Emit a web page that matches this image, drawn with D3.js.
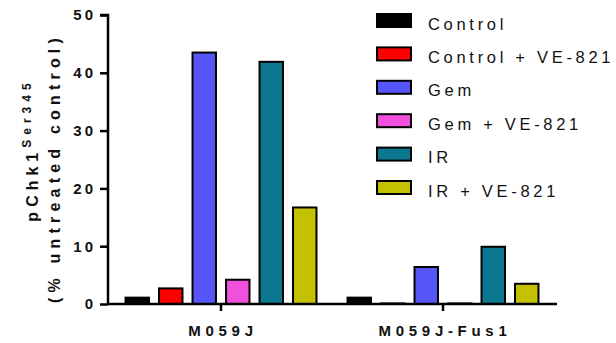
<!DOCTYPE html>
<html><head><meta charset="utf-8">
<script src="https://cdn.jsdelivr.net/npm/d3@7"></script>
<style>body{margin:0;background:#fff}svg{display:block}text{font-family:"Liberation Sans",Arial,sans-serif}</style>
</head><body><svg id="c" width="616" height="343"></svg>
<script>
const groups = ["M059J", "M059J-Fus1"];
const series = ["Control", "Control + VE-821", "Gem", "Gem + VE-821", "IR", "IR + VE-821"];
const colors = ["#000000", "#ff0000", "#5656f8", "#f050dc", "#0b7890", "#c4c200"];
const valuesM059J = [1.1, 2.7, 43.5, 4.2, 41.9, 16.7];
const valuesFus1 = [1.1, 0.1, 6.4, 0.1, 9.9, 3.5];
const yTicks = [0, 10, 20, 30, 40, 50];

const values = [valuesM059J, valuesFus1];
const svg = d3.select("#c");
const x0 = d3.scaleBand().domain(groups).range([110, 554]).paddingInner(0.0946).paddingOuter(0.0473);
const x1 = d3.scaleBand().domain(series).range([0, x0.bandwidth()]).paddingInner(0.3).paddingOuter(0.15);
const y = d3.scaleLinear().domain([0, 50]).range([304, 15]);

// bars
groups.forEach((g, gi) => {
  svg.append("g").selectAll("rect").data(series).join("rect")
    .attr("x", s => x0(g) + x1(s))
    .attr("y", (s, i) => y(values[gi][i]))
    .attr("width", x1.bandwidth())
    .attr("height", (s, i) => y(0) - y(values[gi][i]))
    .attr("fill", (s, i) => colors[i])
    .attr("stroke", "#000").attr("stroke-width", 2);
});

// y axis
const ya = svg.append("g").attr("transform", "translate(108,0)")
  .call(d3.axisLeft(y).tickValues(yTicks).tickSize(8).tickPadding(4));
ya.select(".domain").attr("stroke-width", 2.5).attr("d", `M-8,${y(50)}H0V${y(0)}`);
ya.selectAll(".tick line").attr("stroke-width", 2.5);
ya.selectAll(".tick text").attr("font-size", 15).attr("font-weight", "bold").attr("fill", "#111")
  .style("letter-spacing", "3px").attr("font-family", "Liberation Sans, Arial, sans-serif");

// x axis
const xa = svg.append("g").attr("transform", `translate(0,${y(0)})`)
  .call(d3.axisBottom(x0).tickSize(7).tickPadding(14));
xa.select(".domain").attr("stroke-width", 2.5).attr("d", "M107,0H557");
xa.selectAll(".tick line").attr("stroke-width", 2.5);
xa.selectAll(".tick text").attr("font-size", 15).attr("font-weight", "bold").attr("fill", "#111")
  .style("letter-spacing", "4.7px").attr("font-family", "Liberation Sans, Arial, sans-serif")
  .attr("dx", "2px");

// y title
const t1 = svg.append("text").attr("transform", "translate(38,150) rotate(-90)")
  .attr("text-anchor", "middle").attr("font-weight", "bold").attr("font-size", 16).attr("fill", "#111")
  .style("letter-spacing", "5px");
t1.append("tspan").text("pChk1");
t1.append("tspan").attr("font-size", 12).attr("dy", "-7").text("Ser345");
svg.append("text").attr("transform", "translate(60,168) rotate(-90)")
  .attr("text-anchor", "middle").attr("font-weight", "bold").attr("font-size", 16).attr("fill", "#111")
  .style("letter-spacing", "5.2px").text("(% untreated control)");

// legend
const lg = svg.append("g").selectAll("g").data(series).join("g")
  .attr("transform", (d, i) => `translate(377,${14 + i * 33.4})`);
lg.append("rect").attr("width", 34).attr("height", 13)
  .attr("fill", (d, i) => colors[i]).attr("stroke", "#000").attr("stroke-width", 2);
lg.append("text").attr("x", 51).attr("y", 15.5).attr("font-size", 16.5).attr("fill", "#111")
  .style("letter-spacing", "3.7px").text(d => d);
</script></body></html>
